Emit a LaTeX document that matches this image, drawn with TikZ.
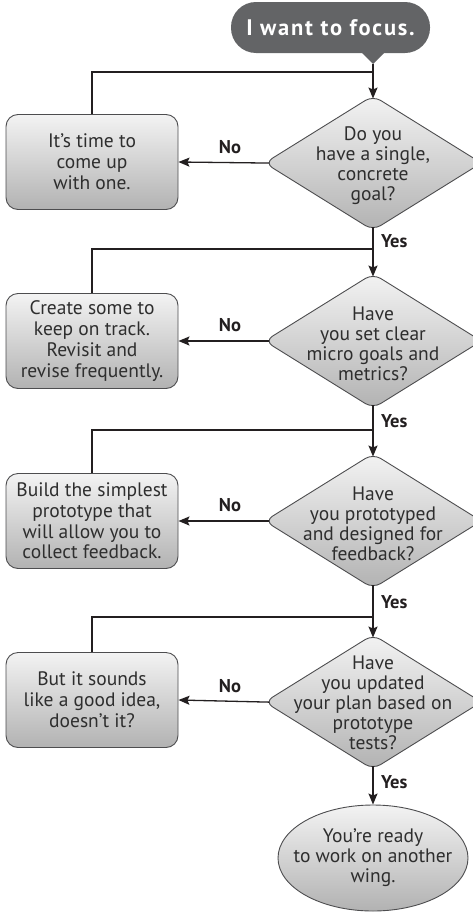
\documentclass[tikz,border=0pt]{standalone}
\usepackage{fontspec}
\setmainfont{PT Sans}
\usetikzlibrary{shapes.geometric,arrows.meta,calc}
\definecolor{bubblec}{HTML}{636466}
\definecolor{edgec}{HTML}{4D4D4F}
\definecolor{ink}{HTML}{231F20}
\definecolor{txtc}{HTML}{2E2E2E}
\definecolor{topc}{HTML}{F3F3F3}
\definecolor{botc}{HTML}{B2B2B2}
\begin{document}
\begin{tikzpicture}[x=1pt,y=-1pt,
  boxnode/.style={draw=edgec, line width=0.9pt, rounded corners=12pt, top color=topc, bottom color=botc,
    minimum width=172pt, minimum height=95pt, inner sep=0pt, align=center, text=txtc,
    font=\fontsize{19.5}{20.8}\selectfont},
  dianode/.style={diamond, draw=edgec, line width=0.9pt, rounded corners=9pt, top color=topc, bottom color=botc,
    minimum width=217pt, minimum height=135pt, inner sep=0pt},
  ellnode/.style={ellipse, draw=edgec, line width=0.9pt, top color=topc, bottom color=botc,
    minimum width=190pt, minimum height=106pt, inner sep=0pt},
  dtext/.style={align=center, text=txtc, font=\fontsize{19.5}{20}\selectfont, inner sep=0pt},
  conn/.style={draw=ink, line width=1.3pt},
  arr/.style={conn, -{Stealth[length=11pt,width=9pt,inset=2pt]}},
  lbl/.style={font=\bfseries\fontsize{18.5}{18.5}\selectfont, text=ink, inner sep=0pt}
]
\useasboundingbox (0,0) rectangle (473,913);

% start bubble
\node[fill=bubblec, rounded corners=25pt, minimum width=199pt, minimum height=51pt, inner sep=0pt,
      text=white, font=\bfseries\fontsize{22.5}{22.5}\selectfont\addfontfeature{LetterSpace=8}] (start) at (330.5,27.5) {I want to focus.};
\coordinate (tip) at (373,64);
\fill[bubblec] (361,52) -- (tip) -- (385,52) -- cycle;

% decisions
\node[dianode] (d1) at (373,163) {};
\node[dtext] (t1) at (373,166) {Do you\\have a single,\\concrete\\goal?};
\node[dianode] (d2) at (373,341) {};
\node[dtext] (t2) at (373,344) {Have\\you set clear\\micro goals and\\metrics?};
\node[dianode] (d3) at (373,521) {};
\node[dtext] (t3) at (373,524) {Have\\you prototyped\\and designed for\\feedback?};
\node[dianode] (d4) at (373,702) {};
\node[dtext] (t4) at (373,703) {Have\\you updated\\your plan based on\\prototype\\tests?};

% actions
\node[boxnode] (b1) at (92,162) {It’s time to\\come up\\with one.};
\node[boxnode] (b2) at (92,341) {Create some to\\keep on track.\\Revisit and\\revise frequently.};
\node[boxnode] (b3) at (92,521) {Build the simplest\\prototype that\\will allow you to\\collect feedback.};
\node[boxnode] (b4) at (92,700) {But it sounds\\like a good idea,\\doesn’t it?};

% end
\node[ellnode] (e) at (373,858) {};
\node[dtext] (te) at (373,858) {You’re ready\\to work on another\\wing.};

% junctions
\coordinate (j1) at (373,72);
\coordinate (j2) at (373,249);
\coordinate (j3) at (373,430);
\coordinate (j4) at (373,617);

% main line
\draw[arr, shorten >=-3.5pt] (tip) -- (d1.north);
\draw[arr, shorten >=-3.5pt, shorten <=-3.5pt] (d1.south) -- (d2.north);
\draw[arr, shorten >=-3.5pt, shorten <=-3.5pt] (d2.south) -- (d3.north);
\draw[arr, shorten >=-3.5pt, shorten <=-3.5pt] (d3.south) -- (d4.north);
\draw[arr, shorten <=-3.5pt] (d4.south) -- (e.north);

% no branches
\draw[arr, shorten <=-5pt] (d1.west) -- (b1.east);
\draw[arr, shorten <=-5pt] (d2.west) -- (b2.east);
\draw[arr, shorten <=-5pt] (d3.west) -- (b3.east);
\draw[arr, shorten <=-5pt] (d4.west) -- (b4.east);
\node[lbl] (n1) at (230,147) {No};
\node[lbl] (n2) at (230,325) {No};
\node[lbl] (n3) at (230,505) {No};
\node[lbl] (n4) at (230,686) {No};

% loop-backs
\draw[conn] (b1.north) |- (j1);
\draw[conn] (b2.north) |- (j2);
\draw[conn] (b3.north) |- (j3);
\draw[conn] (b4.north) |- (j4);

% yes labels
\node[lbl, anchor=west] (y1) at (381,241) {Yes};
\node[lbl, anchor=west] (y2) at (381,421) {Yes};
\node[lbl, anchor=west] (y3) at (381,602) {Yes};
\node[lbl, anchor=west] (y4) at (381,782) {Yes};
\end{tikzpicture}
\end{document}
